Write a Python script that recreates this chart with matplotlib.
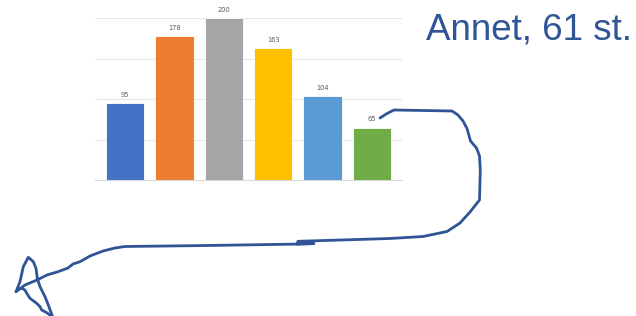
import matplotlib
matplotlib.use("Agg")
import matplotlib.pyplot as plt
from matplotlib.lines import Line2D

categories = ["A", "B", "C", "D", "E", "F"]
values = [95, 178, 200, 163, 104, 65]
colors = ["#4472C4", "#ED7D31", "#A5A5A5", "#FFC000", "#5B9BD5", "#70AD47"]
yticks = [0, 50, 100, 150, 200]
note_text = "Annet, 61 st."

W, H = 636, 316
fig = plt.figure(figsize=(W / 100, H / 100), dpi=100)

ax = fig.add_axes([95 / W, 1 - 180.3 / H, 307 / W, 162 / H])
x = list(range(len(categories)))
bars = ax.bar(x, values, width=0.78, color=colors, edgecolor="white", linewidth=0.6, zorder=3)
ax.set_xlim(-0.61, 5.61)
ax.set_ylim(0, 200)
ax.set_yticks(yticks)
ax.grid(axis="y", color="#E6E6E6", linewidth=0.8, zorder=0)
ax.set_xticks([])
ax.tick_params(left=False, labelleft=False)
for s in ["top", "right", "left"]:
    ax.spines[s].set_visible(False)
ax.spines["bottom"].set_color("#D9D9D9")
ax.spines["bottom"].set_linewidth(0.8)
for xi, v in zip(x, values):
    ax.annotate(str(v), (xi, v), xytext=(0, 4), textcoords="offset points",
                ha="center", va="bottom", fontsize=4.8, color="#595959")
ax.patch.set_alpha(0)

# overlay in pixel coords for annotation text and hand-drawn arrow
ov = fig.add_axes([0, 0, 1, 1], zorder=5)
ov.set_xlim(0, W)
ov.set_ylim(H, 0)
ov.axis("off")
ov.patch.set_alpha(0)
ov.text(425.5, 39.3, note_text, fontsize=26.5, family="Liberation Sans",
        color="#2F5597", ha="left", va="baseline")

ink = "#2F5597"
stroke_main = [(380, 118), (387, 113.5), (394, 110), (452, 111), (458, 115), (463, 121),
               (467, 128.5), (470.5, 141), (476.5, 148), (479.5, 156), (480.3, 170),
               (479.5, 200), (470, 212), (460, 223), (447, 231.5), (423, 236.5),
               (390, 238.5), (298, 241.3), (297, 244), (300, 243.8), (314, 243.6),
               (297, 244.1), (200, 245.6), (125, 246.5), (115, 248), (103, 251),
               (90, 256), (80, 261.7), (73, 264), (68, 268), (58, 271.7), (47, 275),
               (37, 280), (25, 285), (16, 291.7)]
stroke_a = [(16, 291.7), (20, 281.7), (23.3, 266.7), (28.3, 257.3), (33.3, 261.7),
            (36, 268.3), (37.3, 278.3), (40, 286.7), (45, 296.7), (48.3, 305), (52.7, 317)]
stroke_b = [(19, 289), (21.7, 288.3), (25, 290), (26.7, 293.3), (30, 298.3),
            (36.7, 303.3), (40, 306.7), (41.7, 310), (46.7, 312.7), (52.7, 317)]
for st in (stroke_main, stroke_a, stroke_b):
    xs, ys = zip(*st)
    ov.add_line(Line2D(xs, ys, color=ink, linewidth=2.0, solid_joinstyle="round",
                       solid_capstyle="round"))

fig.savefig("out.png", dpi=100)
